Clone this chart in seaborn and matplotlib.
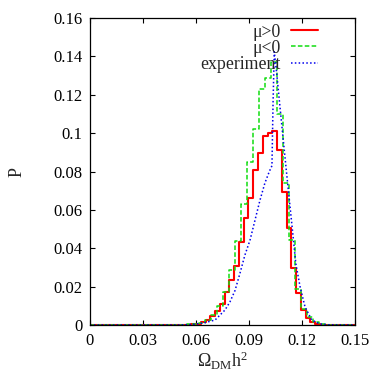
import numpy as np
import pandas as pd
import seaborn as sns
import matplotlib.pyplot as plt

# mu>0 histogram: first bin edge, bin width, heights
pos_start = 0.0519
pos_width = 0.0027
pos_p = [0.0001, 0.0002, 0.0004, 0.0007, 0.0014, 0.0028, 0.0045,
         0.0075, 0.0108, 0.017, 0.0234, 0.031, 0.043, 0.0556, 0.066,
         0.0808, 0.0895, 0.0985, 0.1002, 0.1012, 0.0912, 0.0695, 0.0504,
         0.0298, 0.0166, 0.0078, 0.0036, 0.0016, 0.0006, 0.0002]

# mu<0 histogram
neg_start = 0.0515
neg_width = 0.0034
neg_p = [0.0001, 0.0003, 0.0006, 0.0012, 0.0026, 0.0052, 0.0099,
         0.017, 0.0287, 0.044, 0.063, 0.085, 0.102, 0.123, 0.1285,
         0.137, 0.110, 0.0738, 0.0443, 0.019, 0.0085, 0.004, 0.0015, 0.0006]

# experimental curve
exp_x = [0.0, 0.05, 0.058, 0.064, 0.0708, 0.0764, 0.0792, 0.0821, 0.0849,
         0.0877, 0.0906, 0.0935, 0.0962, 0.0990, 0.1015, 0.1030, 0.1036,
         0.1043, 0.1057, 0.1075, 0.1094, 0.1113, 0.1142, 0.1165, 0.1189,
         0.1217, 0.1255, 0.130, 0.135, 0.15]
exp_p = [0.0, 0.0, 0.0003, 0.001, 0.0026, 0.0078, 0.012, 0.018, 0.027,
         0.0365, 0.0443, 0.055, 0.065, 0.074, 0.080, 0.083, 0.115,
         0.1424, 0.131, 0.114, 0.0964, 0.079, 0.053, 0.032, 0.020,
         0.0095, 0.0026, 0.0006, 0.0001, 0.0]

x_ticks = [0, 0.03, 0.06, 0.09, 0.12, 0.15]
x_labels = ["0", "0.03", "0.06", "0.09", "0.12", "0.15"]
y_ticks = [0, 0.02, 0.04, 0.06, 0.08, 0.1, 0.12, 0.14, 0.16]
y_labels = ["0", "0.02", "0.04", "0.06", "0.08", "0.1", "0.12", "0.14", "0.16"]


def step_frame(start, width, heights):
    edges = start + width * np.arange(len(heights) + 1)
    x = np.concatenate([[0.0], edges, [0.15]])
    y = np.concatenate([[0.0], heights, [0.0, 0.0]])
    return pd.DataFrame({"x": x, "P": y})


sns.set_style("ticks")
plt.rcParams["font.family"] = ["Liberation Serif", "DejaVu Serif"]
plt.rcParams["mathtext.fontset"] = "custom"
plt.rcParams["mathtext.rm"] = "Liberation Serif"
plt.rcParams["mathtext.it"] = "Liberation Serif:italic"

fig = plt.figure(figsize=(3.82, 3.73), dpi=100)
ax = fig.add_axes([0.2356, 0.1287, 0.6937, 0.823])

sns.lineplot(data=step_frame(pos_start, pos_width, pos_p), x="x", y="P",
             drawstyle="steps-post", color="#ff0000", lw=1.5, label="μ>0", ax=ax)
sns.lineplot(data=step_frame(neg_start, neg_width, neg_p), x="x", y="P",
             drawstyle="steps-post", color="#11dd11", lw=1.1,
             linestyle=(0, (3, 1.5)), label="μ<0", ax=ax)
sns.lineplot(x=exp_x, y=exp_p, color="#0000ee", lw=1.1,
             linestyle=(0, (1, 1.5)), label="experiment", ax=ax)

ax.set_xlim(0, 0.15)
ax.set_ylim(0, 0.16)
ax.set_xticks(x_ticks)
ax.set_xticklabels(x_labels)
ax.set_yticks(y_ticks)
ax.set_yticklabels(y_labels)
ax.tick_params(direction="in", top=True, right=True, length=3.5, width=0.8,
               labelsize=12, colors="black", pad=5.5)
for s in ax.spines.values():
    s.set_visible(True)
    s.set_linewidth(0.9)
    s.set_color("black")

ax.set_xlabel(r"$\Omega_{\mathrm{DM}}\mathrm{h}^2$", fontsize=13, labelpad=1)
ax.set_ylabel("P", fontsize=13, labelpad=20)

leg = ax.legend(loc="upper right", bbox_to_anchor=(0.86, 0.982), frameon=False,
                markerfirst=False, fontsize=12.8, handlelength=1.5,
                handletextpad=0.6, labelspacing=-0.05, borderpad=0,
                borderaxespad=0)

fig.savefig("out.png", dpi=100)
